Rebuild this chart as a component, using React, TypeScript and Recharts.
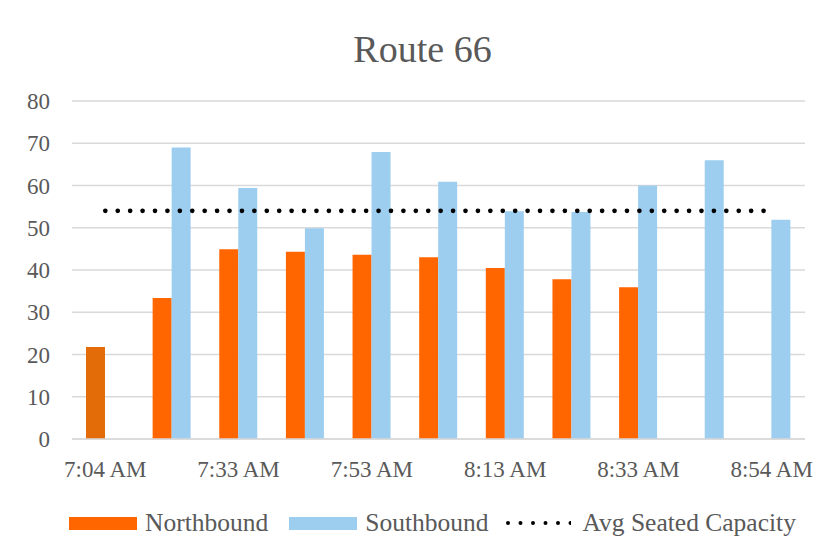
import React from "react";
import {
  ComposedChart,
  Bar,
  Line,
  Cell,
  CartesianGrid,
  XAxis,
  YAxis,
  Legend,
} from "recharts";

// departure times (only every other one is labelled on the axis)
const departures = [
  "7:04 AM",
  "7:18 AM",
  "7:33 AM",
  "7:43 AM",
  "7:53 AM",
  "8:03 AM",
  "8:13 AM",
  "8:23 AM",
  "8:33 AM",
  "8:43 AM",
  "8:54 AM",
];
const northbound = [21.8, 33.4, 44.9, 44.3, 43.6, 43, 40.5, 37.8, 35.9, null, null];
const southbound = [null, 69, 59.4, 49.9, 67.9, 60.9, 53.9, 53.7, 60, 66, 51.9];
const avgSeated = [54, 54, 54, 54, 54, 54, 54, 54, 54, 54, 54];
const yTicks = [0, 10, 20, 30, 40, 50, 60, 70, 80];
const legendOrder = ["Northbound", "Southbound", "Avg Seated Capacity"];

const data = departures.map((time, i) => ({
  time,
  Northbound: northbound[i],
  Southbound: southbound[i],
  "Avg Seated Capacity": avgSeated[i],
}));

const TEXT = "#595959";
const FONT = "'Liberation Serif', serif";

const renderLegend = (props) => {
  const payload = [...(props.payload || [])].sort(
    (a, b) => legendOrder.indexOf(a.value) - legendOrder.indexOf(b.value)
  );
  return (
    <div
      style={{
        display: "flex",
        alignItems: "center",
        height: 30,
        paddingLeft: 61,
        fontFamily: FONT,
        fontSize: 25.5,
        color: TEXT,
      }}
    >
      {payload.map((entry, i) => (
        <div
          key={entry.value}
          style={{
            display: "flex",
            alignItems: "center",
            marginRight: i === 0 ? 21 : 16,
          }}
        >
          {entry.type === "line" ? (
            <svg width={66} height={14} style={{ marginRight: 12 }}>
              <line
                x1={3}
                x2={66}
                y1={7}
                y2={7}
                stroke="black"
                strokeWidth={4}
                strokeLinecap="round"
                strokeDasharray="0 12.5"
              />
            </svg>
          ) : (
            <span
              style={{
                display: "inline-block",
                width: 68,
                height: 13,
                background: entry.color,
                marginRight: 8,
              }}
            />
          )}
          <span style={{ lineHeight: "30px" }}>{entry.value}</span>
        </div>
      ))}
    </div>
  );
};

export default function App() {
  return (
    <div
      style={{
        position: "relative",
        width: 825,
        height: 551,
        marginLeft: -1,
        borderLeft: "1.5px solid #D9D9D9",
      }}
    >
      <div
        style={{
          position: "absolute",
          top: 22,
          left: 0,
          width: 829,
          textAlign: "center",
          fontFamily: FONT,
          fontSize: 38,
          lineHeight: "38px",
          color: TEXT,
          zIndex: 1,
        }}
      >
        Route 66
      </div>
      <ComposedChart
        width={825}
        height={551}
        data={data}
        margin={{ top: 93, right: 28, bottom: 60, left: 14 }}
        barCategoryGap="21%"
        barGap={0}
      >
        <CartesianGrid vertical={false} stroke="#D9D9D9" strokeWidth={1.3} />
        <XAxis
          dataKey="time"
          interval={1}
          height={60}
          tickSize={0}
          tickMargin={22}
          tickLine={false}
          axisLine={{ stroke: "#D9D9D9", strokeWidth: 1.3 }}
          tick={{ fill: TEXT, fontSize: 23, fontFamily: FONT }}
        />
        <YAxis
          domain={[0, 80]}
          ticks={yTicks}
          width={50}
          tickSize={0}
          tickMargin={22}
          tickLine={false}
          axisLine={false}
          tick={{ fill: TEXT, fontSize: 23, fontFamily: FONT }}
        />
        <Legend
          layout="horizontal"
          verticalAlign="middle"
          align="center"
          content={renderLegend}
          wrapperStyle={{ top: 500, left: 0, width: 825 }}
        />
        <Bar dataKey="Northbound" fill="#FF6600" isAnimationActive={false}>
          {data.map((d, i) => (
            <Cell key={d.time} fill={i === 0 ? "#E36C09" : "#FF6600"} />
          ))}
        </Bar>
        <Bar dataKey="Southbound" fill="#9DCEF0" isAnimationActive={false} />
        <Line
          type="linear"
          dataKey="Avg Seated Capacity"
          stroke="#000000"
          strokeWidth={4.7}
          strokeLinecap="round"
          strokeDasharray="0 12.42"
          dot={false}
          activeDot={false}
          legendType="line"
          isAnimationActive={false}
        />
      </ComposedChart>
    </div>
  );
}
